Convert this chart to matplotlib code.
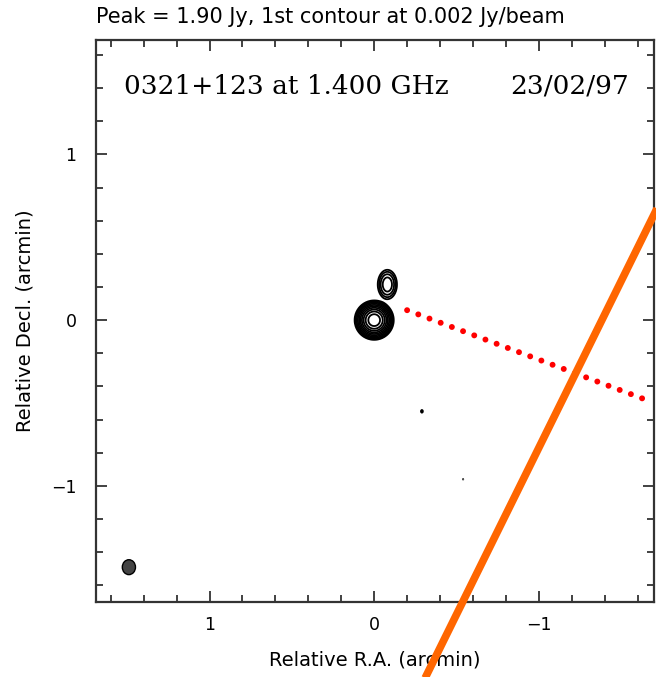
import numpy as np
import matplotlib
matplotlib.use("Agg")
from matplotlib import pyplot as plt
from matplotlib.patches import Ellipse
from matplotlib.ticker import MultipleLocator

# source components (RA offset, Dec offset in arcmin, peak Jy/beam, sigma ra, sigma dec)
comp_ra = [0.0, -0.08, -0.29, -0.54]
comp_dec = [0.0, 0.215, -0.55, -0.96]
comp_peak = [1.90, 0.03, 0.0026, 0.0022]
comp_sig_ra = [0.032, 0.025, 0.008, 0.005]
comp_sig_dec = [0.032, 0.038, 0.012, 0.006]

first_contour = 0.002
peak = 1.90

# beam (lower left)
beam_ra, beam_dec = 1.49, -1.49
beam_w, beam_h = 0.08, 0.09

# overlays
orange_ra = [-1.80, -0.25]
orange_dec = [0.838, -2.278]
red_ra = [-0.20, -1.69]
red_dec = [0.06, -0.495]

fig = plt.figure(figsize=(6.56, 6.77), dpi=100)
ax = fig.add_axes([0.1463, 0.1108, 0.8507, 0.8302])

# build the map from the components
ra = np.linspace(-1.75, 1.75, 701)
dec = np.linspace(-1.75, 1.75, 701)
RA, DEC = np.meshgrid(ra, dec)
img = np.zeros_like(RA)
for x0, y0, a, sx, sy in zip(comp_ra, comp_dec, comp_peak, comp_sig_ra, comp_sig_dec):
    img += a * np.exp(-0.5 * (((RA - x0) / sx) ** 2 + ((DEC - y0) / sy) ** 2))

levels = first_contour * 2.0 ** np.arange(0, 10)
ax.contour(RA, DEC, img, levels=levels, colors="black", linewidths=1.3)

ax.add_patch(Ellipse((beam_ra, beam_dec), beam_w, beam_h, facecolor="#444444",
                     edgecolor="black", linewidth=1))

ax.plot(red_ra, red_dec, color="red", linewidth=4.3, linestyle=(0, (0.001, 2.0)),
        dash_capstyle="round", zorder=4)
ax.plot(orange_ra, orange_dec, color="#ff6600", linewidth=5.5, clip_on=False,
        solid_capstyle="butt", zorder=5)

ax.set_xlim(1.69, -1.70)
ax.set_ylim(-1.70, 1.69)
ax.xaxis.set_major_locator(MultipleLocator(1))
ax.xaxis.set_minor_locator(MultipleLocator(0.2))
ax.yaxis.set_major_locator(MultipleLocator(1))
ax.yaxis.set_minor_locator(MultipleLocator(0.2))
ax.tick_params(which="both", direction="in", top=True, right=True, color="#333333",
               width=1.3, labelsize=12.5)
ax.tick_params(axis="x", pad=10)
ax.tick_params(axis="y", pad=14)
ax.tick_params(which="major", length=8)
ax.tick_params(which="minor", length=5)
for s in ax.spines.values():
    s.set_color("#333333")
    s.set_linewidth(1.6)

ax.set_xlabel("Relative R.A. (arcmin)", fontsize=14, labelpad=12)
ax.set_ylabel("Relative Decl. (arcmin)", fontsize=14, labelpad=12)

fig.text(0.1463, 0.975, "Peak = %.2f Jy, 1st contour at %.3f Jy/beam" % (peak, first_contour),
         fontsize=15, ha="left", va="center")
ax.text(0.05, 0.918, "0321+123 at 1.400 GHz", transform=ax.transAxes,
        fontsize=19, family="DejaVu Serif", ha="left", va="center")
ax.text(0.955, 0.918, "23/02/97", transform=ax.transAxes,
        fontsize=19, family="DejaVu Serif", ha="right", va="center")

fig.savefig("out.png", dpi=100)
